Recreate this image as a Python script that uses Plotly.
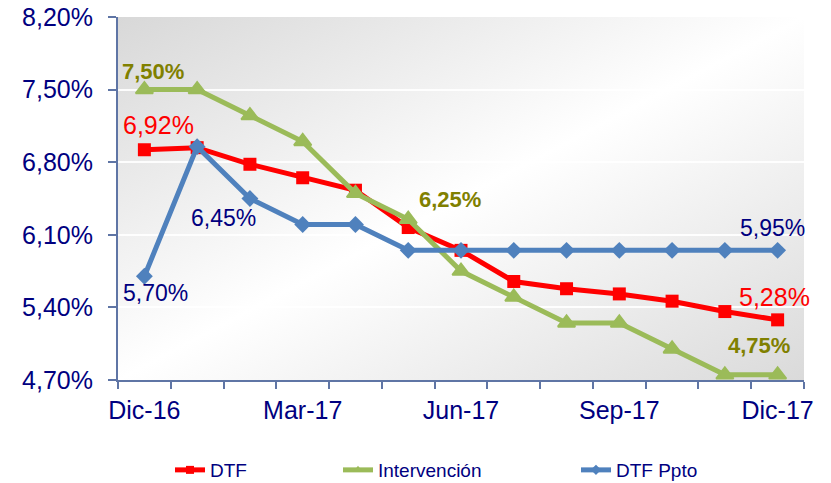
import base64
import plotly.graph_objects as go

# ---------------- data ----------------
months = ["Dic-16", "Ene-17", "Feb-17", "Mar-17", "Abr-17", "May-17", "Jun-17",
          "Jul-17", "Ago-17", "Sep-17", "Oct-17", "Nov-17", "Dic-17"]
dtf = [6.92, 6.94, 6.78, 6.65, 6.53, 6.17, 5.95, 5.65, 5.58, 5.53, 5.46, 5.36, 5.28]
intervencion = [7.50, 7.50, 7.25, 7.00, 6.50, 6.25, 5.75, 5.50, 5.25, 5.25, 5.00, 4.75, 4.75]
dtf_ppto = [5.70, 6.95, 6.45, 6.20, 6.20, 5.95, 5.95, 5.95, 5.95, 5.95, 5.95, 5.95, 5.95]
tick_labels = ["Dic-16", "Mar-17", "Jun-17", "Sep-17", "Dic-17"]
y_ticks = [4.70, 5.40, 6.10, 6.80, 7.50, 8.20]

# labelled points (index of month) per series
dtf_labels = [0, 12]
interv_labels = [0, 5, 12]
ppto_labels = [0, 2, 12]

x = list(range(len(months)))

RED = "#FF0000"
GREEN = "#9BBB59"
BLUE = "#4F81BD"
NAVY = "#000080"
OLIVE = "#808000"
AXIS = "#5F75A5"
FONT = "Liberation Sans, Arial, sans-serif"


def fmt(v):
    return f"{v:.2f}%".replace(".", ",")


fig = go.Figure()

series = [
    ("DTF", dtf, RED, "square", 13, 0),
    ("Intervención", intervencion, GREEN, "triangle-up", 15, 2),
    ("DTF Ppto", dtf_ppto, BLUE, "diamond", 13, 0),
]
legends = ["legend", "legend2", "legend3"]
for (name, vals, col, sym, size, lw), lg in zip(series, legends):
    fig.add_trace(go.Scatter(
        x=x, y=vals, mode="lines+markers", name=name, showlegend=False,
        line=dict(color=col, width=5),
        marker=dict(symbol=sym, size=size, color=col, line=dict(color=col, width=lw)),
        hoverinfo="skip",
    ))
# legend entries (small markers like the reference legend)
for (name, vals, col, sym, size, lw), lg in zip(series, legends):
    fig.add_trace(go.Scatter(
        x=[None], y=[None], mode="lines+markers", name=name, legend=lg,
        line=dict(color=col, width=5),
        marker=dict(symbol=sym, size=8, color=col),
    ))

# (series values, index, color, font size, bold, xshift, yshift)
ann_specs = [
    (dtf, dtf_labels[0], RED, 25, False, 14, 25),
    (dtf, dtf_labels[1], RED, 25, False, -3, 23),
    (intervencion, interv_labels[0], OLIVE, 22, True, 9, 18),
    (intervencion, interv_labels[1], OLIVE, 22, True, 42, 20),
    (intervencion, interv_labels[2], OLIVE, 22, True, -19, 29),
    (dtf_ppto, ppto_labels[0], NAVY, 23, False, 11, -17),
    (dtf_ppto, ppto_labels[1], NAVY, 23, False, -26, -19),
    (dtf_ppto, ppto_labels[2], NAVY, 23, False, -5, 22),
]
for vals, i, col, fs, bold, dx, dy in ann_specs:
    t = fmt(vals[i])
    if bold:
        t = "<b>" + t + "</b>"
    fig.add_annotation(x=x[i], y=vals[i], text=t, showarrow=False,
                       xanchor="center", yanchor="middle", xshift=dx, yshift=dy,
                       font=dict(color=col, size=fs, family=FONT))

# gradient background for the plot area
svg = ('<svg xmlns="http://www.w3.org/2000/svg" width="100" height="100" '
       'preserveAspectRatio="none"><defs><linearGradient id="g" x1="0" y1="0" x2="1" y2="1">'
       '<stop offset="0" stop-color="#d8d8d8"/><stop offset="0.5" stop-color="#ffffff"/>'
       '<stop offset="1" stop-color="#dadada"/></linearGradient></defs>'
       '<rect width="100" height="100" fill="url(#g)"/></svg>')
src = "data:image/svg+xml;base64," + base64.b64encode(svg.encode()).decode()
fig.add_layout_image(source=src, xref="paper", yref="paper", x=0, y=1, sizex=1, sizey=1,
                     xanchor="left", yanchor="top", sizing="stretch", layer="below")

tick_pos = [months.index(t) for t in tick_labels]

fig.update_layout(
    width=831, height=483,
    margin=dict(l=118, r=27, t=17, b=103, autoexpand=False),
    paper_bgcolor="white", plot_bgcolor="rgba(0,0,0,0)",
    font=dict(family=FONT, color=NAVY),
    hovermode=False,
    xaxis=dict(
        range=[-0.5, len(months) - 0.5], tickmode="array", tickvals=tick_pos,
        ticktext=tick_labels, ticks="", showgrid=False, zeroline=False,
        showline=True, linecolor=AXIS, linewidth=2, automargin=False,
        tickfont=dict(size=25, color=NAVY, family=FONT), ticklabelstandoff=7,
        minor=dict(tickmode="linear", tick0=-0.5, dtick=1, ticks="outside",
                   ticklen=7, tickwidth=1.5, tickcolor=AXIS, showgrid=False),
        fixedrange=True,
    ),
    yaxis=dict(
        range=[y_ticks[0], y_ticks[-1]], tickmode="array", tickvals=y_ticks,
        ticktext=[fmt(v) for v in y_ticks], ticks="outside", ticklen=8, tickwidth=1.5,
        tickcolor=AXIS, showline=True, linecolor=AXIS, linewidth=2, automargin=False,
        showgrid=True, gridcolor="rgba(255,255,255,0.9)", gridwidth=1.5, zeroline=False,
        tickfont=dict(size=25, color=NAVY, family=FONT), ticklabelstandoff=10,
        fixedrange=True,
    ),
    legend=dict(orientation="h", x=0.0758, y=-0.248, xanchor="left", yanchor="middle",
                bgcolor="rgba(0,0,0,0)", font=dict(size=19, color=NAVY, family=FONT)),
    legend2=dict(orientation="h", x=0.3207, y=-0.248, xanchor="left", yanchor="middle",
                 bgcolor="rgba(0,0,0,0)", font=dict(size=19, color=NAVY, family=FONT)),
    legend3=dict(orientation="h", x=0.6676, y=-0.248, xanchor="left", yanchor="middle",
                 bgcolor="rgba(0,0,0,0)", font=dict(size=19, color=NAVY, family=FONT)),
)

# remove the browser's default 8px page margin so the figure fills the window exactly
fig.write_html("out.html", config={"displayModeBar": False},
               post_script="document.body.style.margin='0px';")
